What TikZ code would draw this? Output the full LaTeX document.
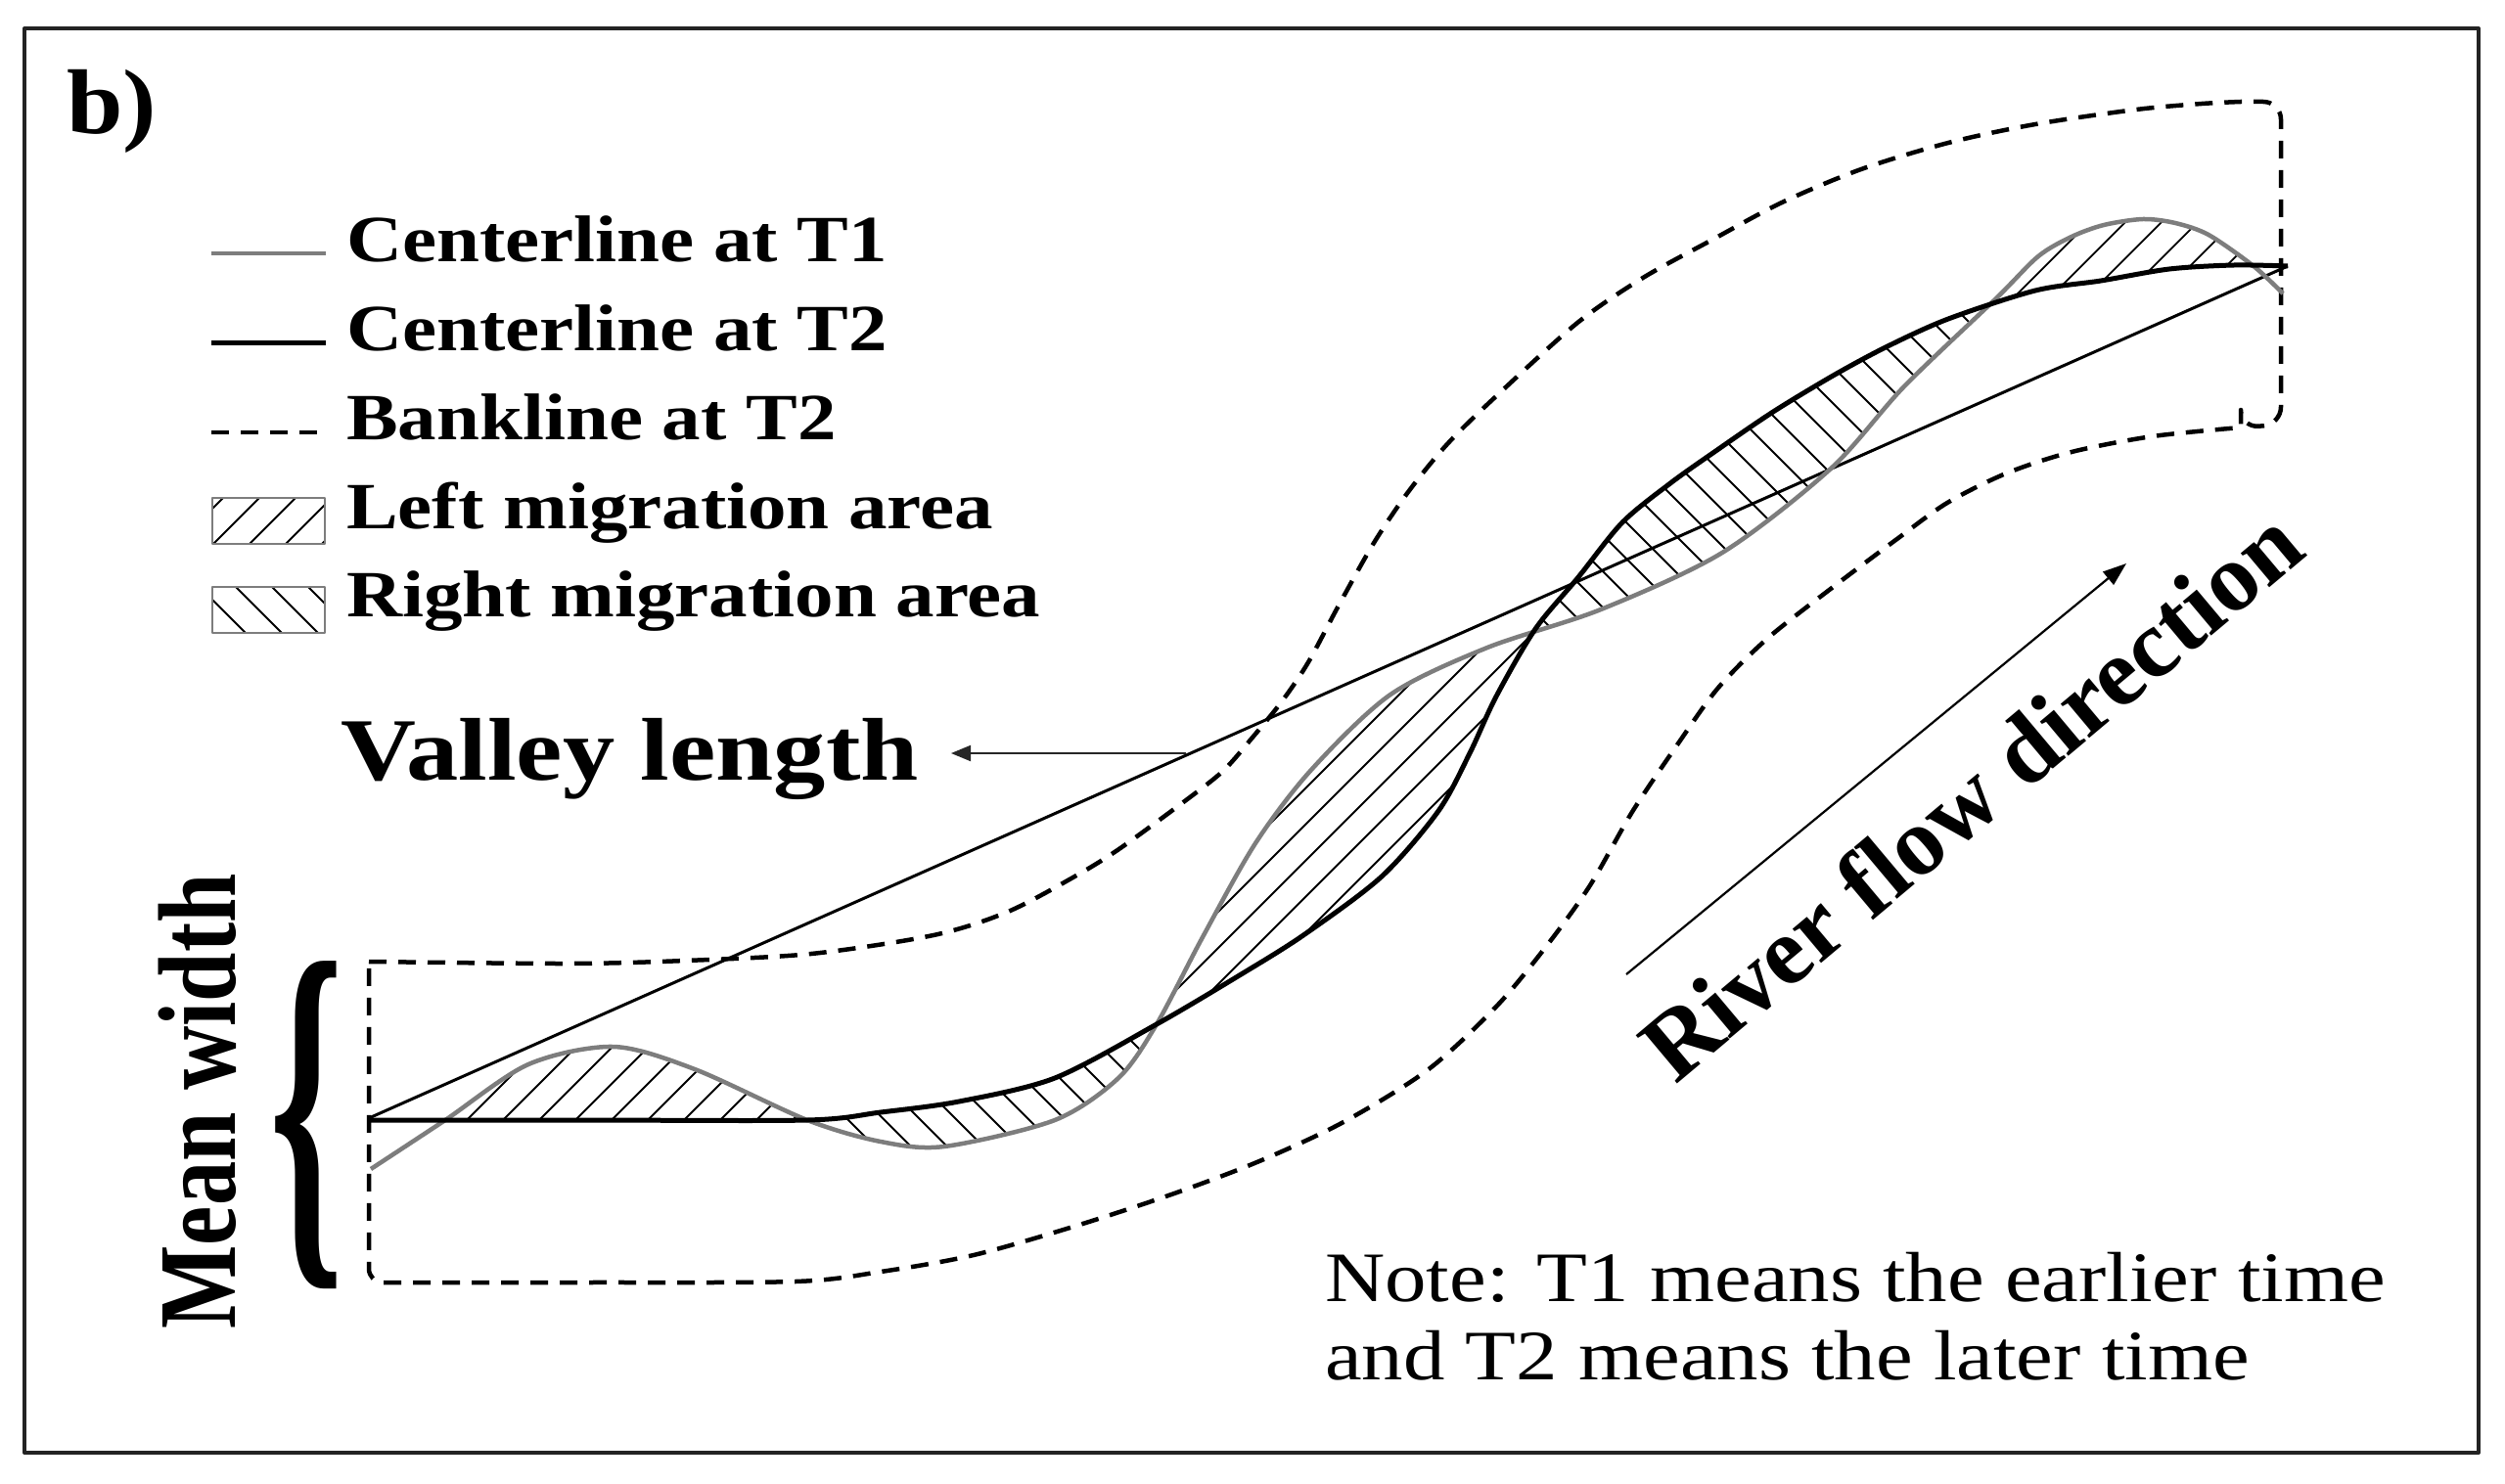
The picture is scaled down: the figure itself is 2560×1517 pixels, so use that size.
\documentclass[tikz,border=0pt]{standalone}
\usepackage{fontspec}
\usepackage{graphicx}
\setmainfont{Liberation Serif}
\newfontfamily\fwide{Liberation Serif}[FakeStretch=1.17]
\newfontfamily\fmid{Liberation Serif}[FakeStretch=1.1]
\usetikzlibrary{arrows.meta}
\definecolor{tgray}{RGB}{125,125,125}
\definecolor{framecol}{RGB}{35,35,35}
\begin{document}
\begin{tikzpicture}[x=1pt,y=-1pt,line join=round,
  tone/.style={draw=tgray,line width=4.5pt},
  ttwo/.style={draw=black,line width=5pt},
  bankline/.style={draw=black,line width=4.5pt,dash pattern=on 18pt off 12pt},
  hatchline/.style={draw=black,line width=1.8pt},
  valleyline/.style={draw=black,line width=3pt},
  legtext/.style={anchor=base west,inner sep=0pt,font=\fwide\bfseries\fontsize{67.5}{67.5}\selectfont},
  notetext/.style={anchor=base west,inner sep=0pt,font=\fwide\fontsize{72.5}{72.5}\selectfont},
  legbox/.style={draw=tgray,line width=1.8pt}]
\useasboundingbox (0,0) rectangle (2560,1517);
\fill[white] (0,0) rectangle (2560,1517);
\draw[draw=framecol,line width=4pt] (25,29) rectangle (2533,1485);

% ---------- left migration hatching (T1 above T2)
\begin{scope}
\clip (455,0) rectangle (2322,1517);
\clip (377,0) -- plot[smooth] coordinates {(377,1145) (600,1145) (825,1145) (900,1137) (980,1126) (1078,1102) (1182,1047) (1265,998) (1332,956) (1412,896) (1470,829) (1502,770) (1529,712) (1569,643) (1613,590) (1658,534) (1707,494) (1752,462) (1812,421) (1875,383) (1929,354) (1991,326) (2080,297) (2147,287) (2217,275) (2283,271) (2338,272)} -- (2338,0) -- cycle;
\clip (379,1517) -- plot[smooth] coordinates {(379,1195) (455,1145) (540,1088) (627,1070) (710,1093) (825,1145) (900,1167) (965,1172) (1078,1145) (1143,1102) (1182,1047) (1229,958) (1283,862) (1340,787) (1421,710) (1520,662) (1636,623) (1760,565) (1871,479) (1946,395) (2040,305) (2083,262) (2117,242) (2150,230) (2190,224) (2223,228) (2257,240) (2303,272) (2333,300)} -- (2333,1517) -- cycle;
\foreach \k in {1400,1437,...,2760} \draw[hatchline] (\k-1300,1300) -- (\k-100,100);
\end{scope}

% ---------- right migration hatching (T1 below T2)
\begin{scope}
\clip (455,0) rectangle (2322,1517);
\clip (379,0) -- plot[smooth] coordinates {(379,1195) (455,1145) (540,1088) (627,1070) (710,1093) (825,1145) (900,1167) (965,1172) (1078,1145) (1143,1102) (1182,1047) (1229,958) (1283,862) (1340,787) (1421,710) (1520,662) (1636,623) (1760,565) (1871,479) (1946,395) (2040,305) (2083,262) (2117,242) (2150,230) (2190,224) (2223,228) (2257,240) (2303,272) (2333,300)} -- (2333,0) -- cycle;
\clip (377,1517) -- plot[smooth] coordinates {(377,1145) (600,1145) (825,1145) (900,1137) (980,1126) (1078,1102) (1182,1047) (1265,998) (1332,956) (1412,896) (1470,829) (1502,770) (1529,712) (1569,643) (1613,590) (1658,534) (1707,494) (1752,462) (1812,421) (1875,383) (1929,354) (1991,326) (2080,297) (2147,287) (2217,275) (2283,271) (2338,272)} -- (2338,1517) -- cycle;
\foreach \k in {-500,-463,...,1860} \draw[hatchline] (\k+100,100) -- (\k+1300,1300);
\end{scope}

% ---------- bank lines at T2
\draw[bankline] plot[smooth] coordinates {(377,983) (580,985) (700,982) (829,975) (954,956) (1030,932) (1100,895) (1145,867) (1212,818) (1250,788) (1279,755) (1310,717) (1337,677) (1368,619) (1404,555) (1439,503) (1479,454) (1529,405) (1612,330) (1679,284) (1750,245) (1821,207) (1902,173) (1991,146) (2080,127) (2183,112) (2250,106) (2290,104)}
  [rounded corners=18pt] -- (2331,104) -- (2331,434) -- (2290,437) [sharp corners]
  -- plot[smooth] coordinates {(2290,437) (2200,446) (2117,462) (2050,484) (1990,514) (1940,550) (1876,598) (1807,652) (1756,703) (1715,760) (1668,830) (1625,905) (1582,965) (1530,1028) (1460,1093) (1373,1147) (1287,1187) (1200,1220) (1100,1253) (995,1283) (900,1300) (813,1310) (600,1311) (420,1311)}
  [rounded corners=14pt] -- (377,1311) -- (377,983);

% ---------- valley line
\coordinate (vs) at (377,1143);
\coordinate (ve) at (2338,272);
\draw[valleyline] (vs) -- (ve);

% ---------- centerlines
\draw[tone] plot[smooth] coordinates {(379,1195) (455,1145) (540,1088) (627,1070) (710,1093) (825,1145) (900,1167) (965,1172) (1078,1145) (1143,1102) (1182,1047) (1229,958) (1283,862) (1340,787) (1421,710) (1520,662) (1636,623) (1760,565) (1871,479) (1946,395) (2040,305) (2083,262) (2117,242) (2150,230) (2190,224) (2223,228) (2257,240) (2303,272) (2333,300)};
\draw[ttwo] plot[smooth] coordinates {(377,1145) (600,1145) (825,1145) (900,1137) (980,1126) (1078,1102) (1182,1047) (1265,998) (1332,956) (1412,896) (1470,829) (1502,770) (1529,712) (1569,643) (1613,590) (1658,534) (1707,494) (1752,462) (1812,421) (1875,383) (1929,354) (1991,326) (2080,297) (2147,287) (2217,275) (2283,271) (2338,272)};

% ---------- labels and arrows
\node[anchor=base west,inner sep=0pt,font=\fmid\bfseries\fontsize{94}{94}\selectfont] (lbl) at (68,137) {b)};

\node[anchor=base west,inner sep=0pt,font=\fwide\bfseries\fontsize{91}{91}\selectfont] (vl) at (348,797) {Valley length};
\coordinate (va) at (1212,770);
\coordinate (vtip) at (972,770);
\draw[draw=black!85,line width=2pt,-{Triangle[length=20pt,width=16pt]}] (va) -- (vtip);

\node[inner sep=0pt] (brace) at (314,1150) {\resizebox*{76pt}{334pt}{\bfseries\{}};
\node[rotate=90,anchor=base,inner sep=0pt] (mw) at (240,1126) {\scalebox{1}[1.25]{\bfseries\fontsize{90.5}{90.5}\selectfont Mean width}};

\coordinate (ra) at (1662,996);
\coordinate (rb) at (2173,576);
\draw[draw=black,line width=2.2pt,-{Triangle[length=24pt,width=17pt]}] (ra) -- (rb);
\node[rotate=40,anchor=base west,inner sep=0pt,font=\bfseries\fontsize{99}{99}\selectfont] (rf) at (1712,1110) {River flow direction};

\node[notetext] (note1) at (1354,1330) {Note: T1 means the earlier time};
\node[notetext] (note2) at (1354,1410) {and T2 means the later time};

% ---------- legend
\draw[tone] (216,259) -- (333,259);
\draw[ttwo] (216,350) -- (333,350);
\draw[bankline] (216,442) -- (333,442);
\begin{scope}
\clip (217,509) rectangle (332,556);
\foreach \k in {700,737,...,920} \draw[hatchline] (\k-600,600) -- (\k-450,450);
\end{scope}
\draw[legbox] (217,509) rectangle (332,556);
\begin{scope}
\clip (217,600) rectangle (332,647);
\foreach \k in {-470,-433,...,-240} \draw[hatchline] (\k+570,570) -- (\k+700,700);
\end{scope}
\draw[legbox] (217,600) rectangle (332,647);

\node[legtext] (lg1) at (354,268) {Centerline at T1};
\node[legtext] (lg2) at (354,358) {Centerline at T2};
\node[legtext] (lg3) at (354,449) {Bankline at T2};
\node[legtext] (lg4) at (354,540) {Left migration area};
\node[legtext] (lg5) at (354,630) {Right migration area};
\end{tikzpicture}
\end{document}
